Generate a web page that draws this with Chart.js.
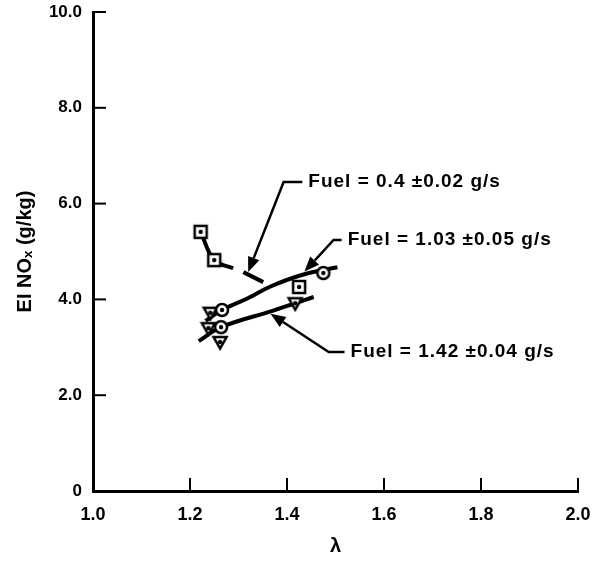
<!DOCTYPE html>
<html lang="en">
<head>
<meta charset="UTF-8" />
<title>EI NOx vs lambda</title>
<script src="https://cdn.jsdelivr.net/npm/chart.js@4.4.0/dist/chart.umd.min.js"></script>
<style>
  html, body { margin: 0; padding: 0; background: #fff; }
  #wrap { width: 601px; height: 561px; }
</style>
</head>
<body>
<div id="wrap"><canvas id="noxChart"></canvas></div>
<script>
// measured points: lambda vs EI NOx (g/kg)
const squareLambda = [1.222, 1.250, 1.425];
const squareEI = [5.41, 4.82, 4.26];
const circleLambda = [1.266, 1.264, 1.475];
const circleEI = [3.78, 3.42, 4.55];
const triangleLambda = [1.242, 1.238, 1.262, 1.417];
const triangleEI = [3.72, 3.40, 3.11, 3.92];

// faired curves through each fuel flow (null = break in the line)
const fuel04Lambda = [1.222, 1.250, 1.289, 1.300, 1.310, 1.351];
const fuel04EI = [5.41, 4.82, 4.65, null, 4.57, 4.36];
const fuel103Lambda = [1.232, 1.266, 1.318, 1.366, 1.434, 1.504];
const fuel103EI = [3.55, 3.78, 4.02, 4.27, 4.52, 4.67];
const fuel142Lambda = [1.218, 1.264, 1.370, 1.417, 1.455];
const fuel142EI = [3.13, 3.42, 3.76, 3.92, 4.05];

// callout labels, anchored in data units
const calloutText = ['Fuel = 0.4 \u00b10.02 g/s', 'Fuel = 1.03 \u00b10.05 g/s', 'Fuel = 1.42 \u00b10.04 g/s'];
const calloutTextAt = [[1.444, 6.45], [1.525, 5.24], [1.531, 2.90]];
const calloutElbow = [[1.393, 6.45], [1.496, 5.24], [1.486, 2.90]];
const calloutTip = [[1.320, 4.57], [1.436, 4.58], [1.366, 3.70]];

const FONT = "'Liberation Sans', Arial, sans-serif";

const toPoints = (xs, ys) => xs.map((x, i) => ({ x: x, y: ys[i] }));

function makeMarker(draw) {
    const c = document.createElement('canvas');
    c.width = 18; c.height = 18;
    const g = c.getContext('2d');
    g.lineWidth = 2.5;
    g.strokeStyle = '#000';
    g.fillStyle = '#fff';
    draw(g);
    g.fillStyle = '#000';
    g.beginPath(); g.arc(9, 9, 2.2, 0, Math.PI * 2); g.fill();
    return c;
}
const squareMark = makeMarker(g => { g.fillRect(3, 3, 12, 12); g.strokeRect(3, 3, 12, 12); });
const circleMark = makeMarker(g => { g.beginPath(); g.arc(9, 9, 6, 0, Math.PI * 2); g.fill(); g.stroke(); });
const triangleMark = makeMarker(g => {
    g.beginPath(); g.moveTo(2.5, 4); g.lineTo(15.5, 4); g.lineTo(9, 15.5); g.closePath();
    g.fill(); g.stroke();
});

const curve = (data) => ({
    data: data,
    showLine: true,
    borderColor: '#000',
    borderWidth: 4,
    pointRadius: 0,
    tension: 0.4,
    spanGaps: false,
    order: 2,
});
const marks = (data, style) => ({
    data: data,
    showLine: false,
    pointStyle: style,
    pointRadius: 7,
    order: 0,
});

// inward tick marks on both axes
const inwardTicks = {
    id: 'inwardTicks',
    afterDraw(chart) {
        const { ctx, chartArea, scales: { x, y } } = chart;
        ctx.save();
        ctx.strokeStyle = '#000';
        ctx.lineWidth = 2;
        x.ticks.forEach(t => {
            const px = x.getPixelForValue(t.value);
            ctx.beginPath(); ctx.moveTo(px, chartArea.bottom); ctx.lineTo(px, chartArea.bottom - 13); ctx.stroke();
        });
        y.ticks.forEach(t => {
            const py = y.getPixelForValue(t.value);
            ctx.beginPath(); ctx.moveTo(chartArea.left, py); ctx.lineTo(chartArea.left + 13, py); ctx.stroke();
        });
        ctx.restore();
    }
};

// text + leader + arrow for each fuel flow
const callouts = {
    id: 'callouts',
    afterDatasetsDraw(chart) {
        const { ctx, scales: { x, y } } = chart;
        ctx.save();
        ctx.strokeStyle = '#000';
        ctx.fillStyle = '#000';
        ctx.lineWidth = 2.5;
        ctx.font = 'bold 19px ' + FONT;
        ctx.letterSpacing = '1px';
        ctx.textBaseline = 'middle';
        ctx.textAlign = 'left';
        calloutText.forEach((txt, i) => {
            const tx = x.getPixelForValue(calloutTextAt[i][0]);
            const ty = y.getPixelForValue(calloutTextAt[i][1]);
            const ex = x.getPixelForValue(calloutElbow[i][0]);
            const ey = y.getPixelForValue(calloutElbow[i][1]);
            const ax = x.getPixelForValue(calloutTip[i][0]);
            const ay = y.getPixelForValue(calloutTip[i][1]);
            ctx.fillText(txt, tx, ty);
            ctx.beginPath();
            ctx.moveTo(tx - 6, ey);
            ctx.lineTo(ex, ey);
            const ang = Math.atan2(ay - ey, ax - ex);
            const len = 15, half = 6;
            const bx = ax - Math.cos(ang) * len, by = ay - Math.sin(ang) * len;
            ctx.lineTo(bx, by);
            ctx.stroke();
            ctx.beginPath();
            ctx.moveTo(ax, ay);
            ctx.lineTo(bx - Math.sin(ang) * half, by + Math.cos(ang) * half);
            ctx.lineTo(bx + Math.sin(ang) * half, by - Math.cos(ang) * half);
            ctx.closePath();
            ctx.fill();
        });
        ctx.restore();
    }
};

new Chart(document.getElementById('noxChart'), {
    type: 'scatter',
    data: {
        datasets: [
            marks(toPoints(squareLambda, squareEI), squareMark),
            marks(toPoints(circleLambda, circleEI), circleMark),
            marks(toPoints(triangleLambda, triangleEI), triangleMark),
            curve(toPoints(fuel04Lambda, fuel04EI)),
            curve(toPoints(fuel103Lambda, fuel103EI)),
            curve(toPoints(fuel142Lambda, fuel142EI)),
        ]
    },
    options: {
        responsive: true,
        maintainAspectRatio: false,
        animation: false,
        layout: { padding: { left: 0, right: 23, top: 12, bottom: 0 } },
        plugins: { legend: { display: false }, tooltip: { enabled: false } },
        scales: {
            x: {
                type: 'linear',
                min: 1.0,
                max: 2.0,
                afterFit: (s) => { s.height = 70; s.paddingLeft = 0; s.paddingRight = 0; },
                grid: { drawOnChartArea: false, drawTicks: false },
                border: { color: '#000', width: 3 },
                ticks: {
                    stepSize: 0.2,
                    padding: 13,
                    color: '#000',
                    font: { family: FONT, size: 18, weight: 'bold' },
                    callback: (v) => v.toFixed(1),
                },
                title: {
                    display: true,
                    text: '\u03bb',
                    color: '#000',
                    font: { family: FONT, size: 20, weight: 'bold' },
                    padding: { top: 0, bottom: 3 },
                },
            },
            y: {
                type: 'linear',
                min: 0,
                max: 10,
                afterFit: (s) => { s.width = 93; s.paddingTop = 0; s.paddingBottom = 0; },
                grid: { drawOnChartArea: false, drawTicks: false },
                border: { color: '#000', width: 3 },
                ticks: {
                    stepSize: 2,
                    padding: 11,
                    color: '#000',
                    font: { family: FONT, size: 17, weight: 'bold' },
                    callback: (v) => (v === 0 ? '0' : v.toFixed(1)),
                },
                title: {
                    display: true,
                    text: 'EI NO\u2093 (g/kg)',
                    color: '#000',
                    font: { family: FONT, size: 20, weight: 'bold' },
                    padding: { top: 13, bottom: 0 },
                },
            },
        },
    },
    plugins: [inwardTicks, callouts],
});
</script>
</body>
</html>
